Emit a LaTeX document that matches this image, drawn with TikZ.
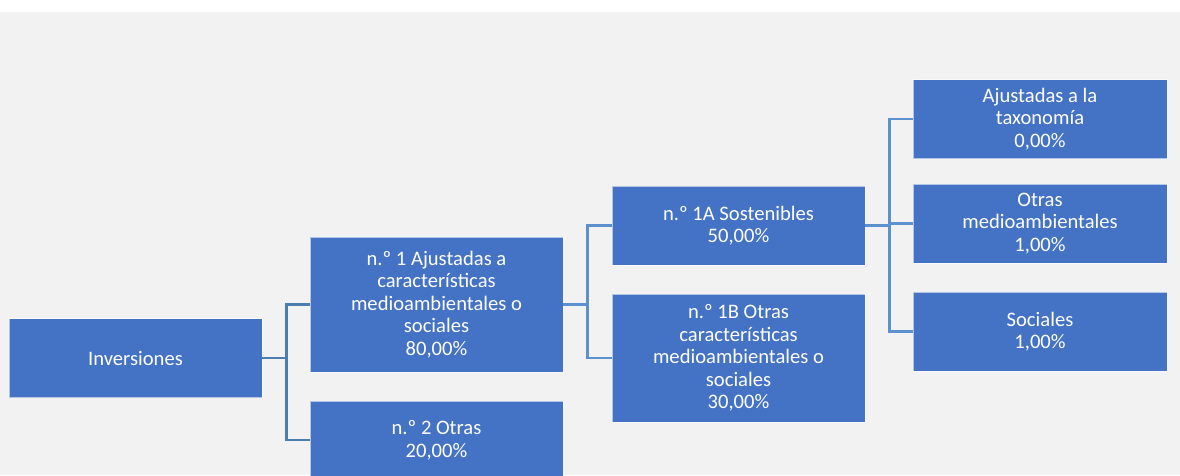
\documentclass[tikz,border=0pt]{standalone}
\usepackage{fontspec}
\setmainfont{Carlito}
\definecolor{bg}{HTML}{F2F2F2}
\definecolor{boxblue}{HTML}{4472C4}
\definecolor{linkA}{HTML}{4A7DB0}
\definecolor{linkB}{HTML}{5B91CF}
\begin{document}
\begin{tikzpicture}[x=1pt,y=-1pt,
  box/.style={fill=boxblue, draw=white, draw opacity=0.6, line width=0.8pt, text=white,
    align=center, inner sep=0pt, minimum width=253pt,
    font=\fontsize{20.6}{22.6}\selectfont},
  linkone/.style={draw=linkA, line width=2.2pt},
  linktwo/.style={draw=linkB, line width=2.2pt}]
\clip (0,0) rectangle (1180,475);
\fill[white] (0,0) rectangle (1180,475);
\fill[bg] (0,12) rectangle (1180,475);

\node[box, minimum height=79pt] (inv) at (135.5,358) {Inversiones};
\node[box, minimum height=135pt] (b1) at (436.5,304.5) {n.º 1 Ajustadas a\\características\\medioambientales o\\sociales\\80,00\%};
\node[box, minimum height=78pt] (b2) at (436.5,440) {n.º 2 Otras\\20,00\%};
\node[box, minimum height=79pt] (s1a) at (738.5,225.5) {n.º 1A Sostenibles\\50,00\%};
\node[box, minimum height=128pt] (s1b) at (738.5,358) {n.º 1B Otras\\características\\medioambientales o\\sociales\\30,00\%};
\node[box, minimum width=254pt, minimum height=79pt] (aj) at (1040,119) {Ajustadas a la\\taxonomía\\0,00\%};
\node[box, minimum width=254pt, minimum height=79pt] (om) at (1040,223.5) {Otras\\medioambientales\\1,00\%};
\node[box, minimum width=254pt, minimum height=79pt] (so) at (1040,331.5) {Sociales\\1,00\%};

\draw[linkone] (inv.east) -- ++(24,0) |- (b1.west);
\draw[linkone] (inv.east) -- ++(24,0) |- (b2.west);
\draw[linktwo] (b1.east) -- ++(24,0) |- (s1a.west);
\draw[linktwo] (b1.east) -- ++(24,0) |- (s1b.west);
\draw[linktwo] (s1a.east) -- ++(24,0) |- (aj.west);
\draw[linktwo] (s1a.east) -- ++(24,0) |- (om.west);
\draw[linktwo] (s1a.east) -- ++(24,0) |- (so.west);
\end{tikzpicture}
\end{document}
